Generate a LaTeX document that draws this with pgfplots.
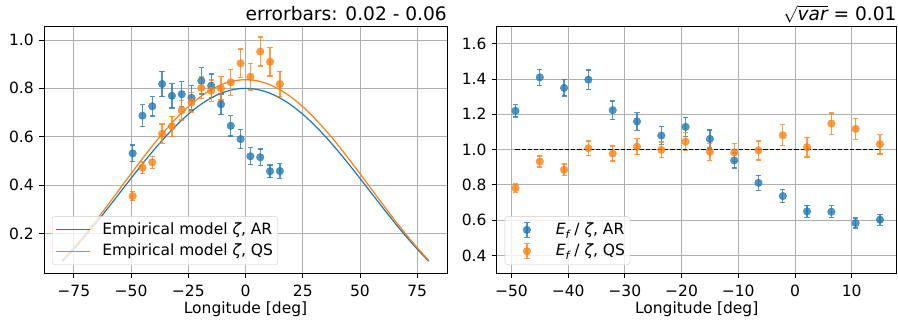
\documentclass[border=0pt]{standalone}
\usepackage{pgfplots}
\pgfplotsset{compat=1.18}
\usepackage{pgfplotstable}
\usepackage{fontspec}
\setmainfont{DejaVu Sans}
\definecolor{tabblue}{HTML}{1F77B4}
\definecolor{taborange}{HTML}{FF7F0E}
\definecolor{gridgray}{HTML}{B0B0B0}
\definecolor{leggray}{HTML}{CCCCCC}

\pgfplotstableread{
x ar qs
-80 0.0847 0.0885
-75 0.1346 0.1407
-70 0.1886 0.1971
-65 0.2460 0.2571
-60 0.3056 0.3194
-55 0.3665 0.3830
-50 0.4275 0.4467
-45 0.4875 0.5094
-40 0.5452 0.5697
-35 0.5994 0.6264
-30 0.6490 0.6782
-25 0.6930 0.7242
-20 0.7304 0.7633
-15 0.7603 0.7945
-10 0.7822 0.8174
-5 0.7955 0.8313
0 0.8000 0.8360
5 0.7955 0.8313
10 0.7822 0.8174
15 0.7603 0.7945
20 0.7304 0.7633
25 0.6930 0.7242
30 0.6490 0.6782
35 0.5994 0.6264
40 0.5452 0.5697
45 0.4875 0.5094
50 0.4275 0.4467
55 0.3665 0.3830
60 0.3056 0.3194
65 0.2460 0.2571
70 0.1886 0.1971
75 0.1346 0.1407
80 0.0847 0.0885
}\modeltab

\pgfplotstableread{
x ar ear qs eqs
-49.29 0.531 0.034 0.354 0.019
-45.00 0.687 0.046 0.472 0.023
-40.71 0.726 0.040 0.494 0.025
-36.43 0.818 0.053 0.612 0.040
-32.14 0.769 0.050 0.643 0.041
-27.86 0.776 0.052 0.709 0.040
-23.57 0.761 0.050 0.742 0.040
-19.29 0.831 0.054 0.802 0.045
-15.00 0.811 0.048 0.790 0.045
-10.71 0.734 0.043 0.800 0.048
-6.43 0.645 0.042 0.825 0.054
-2.14 0.590 0.039 0.904 0.059
2.14 0.519 0.035 0.848 0.055
6.43 0.515 0.034 0.952 0.060
10.71 0.457 0.026 0.910 0.059
15.00 0.458 0.030 0.818 0.052
}\lefttab

\pgfplotstableread{
x ar ear qs eqs
-49.29 1.219 0.035 0.781 0.023
-45.00 1.409 0.045 0.932 0.032
-40.71 1.349 0.046 0.885 0.032
-36.43 1.396 0.054 1.007 0.042
-32.14 1.223 0.052 0.977 0.042
-27.86 1.159 0.050 1.016 0.045
-23.57 1.079 0.051 0.998 0.045
-19.29 1.128 0.054 1.045 0.050
-15.00 1.060 0.051 0.987 0.048
-10.71 0.938 0.043 0.983 0.051
-6.43 0.811 0.043 0.995 0.054
-2.14 0.736 0.038 1.081 0.060
2.14 0.649 0.034 1.013 0.055
6.43 0.647 0.034 1.147 0.060
10.71 0.583 0.028 1.117 0.059
15.00 0.602 0.031 1.030 0.055
}\righttab

\newcommand{\fs}{\fontsize{15.5bp}{18bp}\selectfont}
\newcommand{\ft}{\fontsize{18.6bp}{22bp}\selectfont}

\pgfplotsset{
  mybase/.style={
    scale only axis, height=247bp,
    axis line style={line width=0.8bp},
    grid=major, major grid style={gridgray, line width=0.8bp},
    tick align=outside, major tick length=4.9bp,
    tick style={black, line width=0.8bp},
    tick pos=left,
    ticklabel style={font=\fs},
    xticklabel style={yshift=-1.5bp},
    label style={font=\fs},
    xlabel={Longitude [deg]},
    xlabel style={at={(axis description cs:0.5,0)}, anchor=base, yshift=-40.3bp},
    legend style={draw=leggray, rounded corners=3bp, fill=white, fill opacity=0.8, draw opacity=1, text opacity=1, font=\fs, anchor=south west, inner xsep=3bp, inner ysep=4.5bp, row sep=3.3bp},
    legend cell align=left,
    every axis title/.style={at={(1,1)}, anchor=base east, yshift=5.5bp, inner sep=0pt},
  },
  pts/.style={only marks, mark=*, mark size=3.8bp, opacity=0.78, color=#1, mark options={fill=#1, draw=#1},
    /pgfplots/error bars/y dir=both, /pgfplots/error bars/y explicit,
    /pgfplots/error bars/error bar style={line width=1.3bp, color=#1},
    /pgfplots/error bars/error mark options={rotate=90, color=#1, line width=1.3bp, mark size=2.6bp}},
  lineleg/.style={legend image code/.code={\draw[##1] (0bp,0bp) -- (34bp,0bp);}},
}

\begin{document}
\fs
\begin{tikzpicture}
\useasboundingbox (-44bp,-54bp) rectangle (854bp,273bp);
\begin{axis}[mybase, width=403bp,
  xmin=-88, xmax=88, ymin=0.036, ymax=1.058,
  xtick={-75,-50,-25,0,25,50,75},
  xticklabels={−75,−50,−25,0,25,50,75},
  ytick={0.2,0.4,0.6,0.8,1.0},
  yticklabels={0.2,0.4,0.6,0.8,1.0},
  title={\ft errorbars: 0.02 - 0.06},
  legend style={at={(0.0199,0.0324)}, /tikz/every odd column/.append style={column sep=10bp}},
  lineleg,
]
\addplot[tabblue, line width=1.2bp, smooth] table[x=x, y=ar] {\modeltab};
\addlegendentry{Empirical model {\itshape ζ}, AR}
\addplot[taborange, line width=1.2bp, smooth] table[x=x, y=qs] {\modeltab};
\addlegendentry{Empirical model {\itshape ζ}, QS}
\addplot[forget plot, pts=tabblue] table[x=x, y=ar, y error=ear] {\lefttab};
\addplot[forget plot, pts=taborange] table[x=x, y=qs, y error=eqs] {\lefttab};
\end{axis}

\begin{axis}[mybase, width=400bp, at={(452.7bp,0bp)},
  xmin=-52.6, xmax=17.95, ymin=0.3, ymax=1.7,
  xtick={-50,-40,-30,-20,-10,0,10},
  xticklabels={−50,−40,−30,−20,−10,0,10},
  ytick={0.4,0.6,0.8,1.0,1.2,1.4,1.6},
  yticklabels={0.4,0.6,0.8,1.0,1.2,1.4,1.6},
  title={\ft $\sqrt{\hbox{\ft\itshape var}}$ = 0.01},
  legend style={at={(0.02,0.0324)}},
]
\addplot[pts=tabblue, legend image code/.code={
  \draw[tabblue, opacity=0.78, line width=1.3bp] (19bp,-7.5bp) -- (19bp,7.5bp) (16.4bp,-7.5bp) -- (21.6bp,-7.5bp) (16.4bp,7.5bp) -- (21.6bp,7.5bp);
  \fill[tabblue, opacity=0.78] (19bp,0bp) circle (3.8bp);
  \path[draw=none, fill=none] (0bp,-8bp) rectangle (46bp,8bp);}] table[x=x, y=ar, y error=ear] {\righttab};
\addlegendentry{{\itshape E}\raisebox{-0.25em}{\fontsize{11bp}{12bp}\selectfont\itshape f} / {\itshape ζ}, AR}
\addplot[pts=taborange, legend image code/.code={
  \draw[taborange, opacity=0.78, line width=1.3bp] (19bp,-7.5bp) -- (19bp,7.5bp) (16.4bp,-7.5bp) -- (21.6bp,-7.5bp) (16.4bp,7.5bp) -- (21.6bp,7.5bp);
  \fill[taborange, opacity=0.78] (19bp,0bp) circle (3.8bp);
  \path[draw=none, fill=none] (0bp,-8bp) rectangle (46bp,8bp);}] table[x=x, y=qs, y error=eqs] {\righttab};
\addlegendentry{{\itshape E}\raisebox{-0.25em}{\fontsize{11bp}{12bp}\selectfont\itshape f} / {\itshape ζ}, QS}
\addplot[black, line width=1.2bp, dash pattern=on 4.2bp off 2bp, forget plot] coordinates {(-49.29,1) (15,1)};
\end{axis}
\end{tikzpicture}
\end{document}
